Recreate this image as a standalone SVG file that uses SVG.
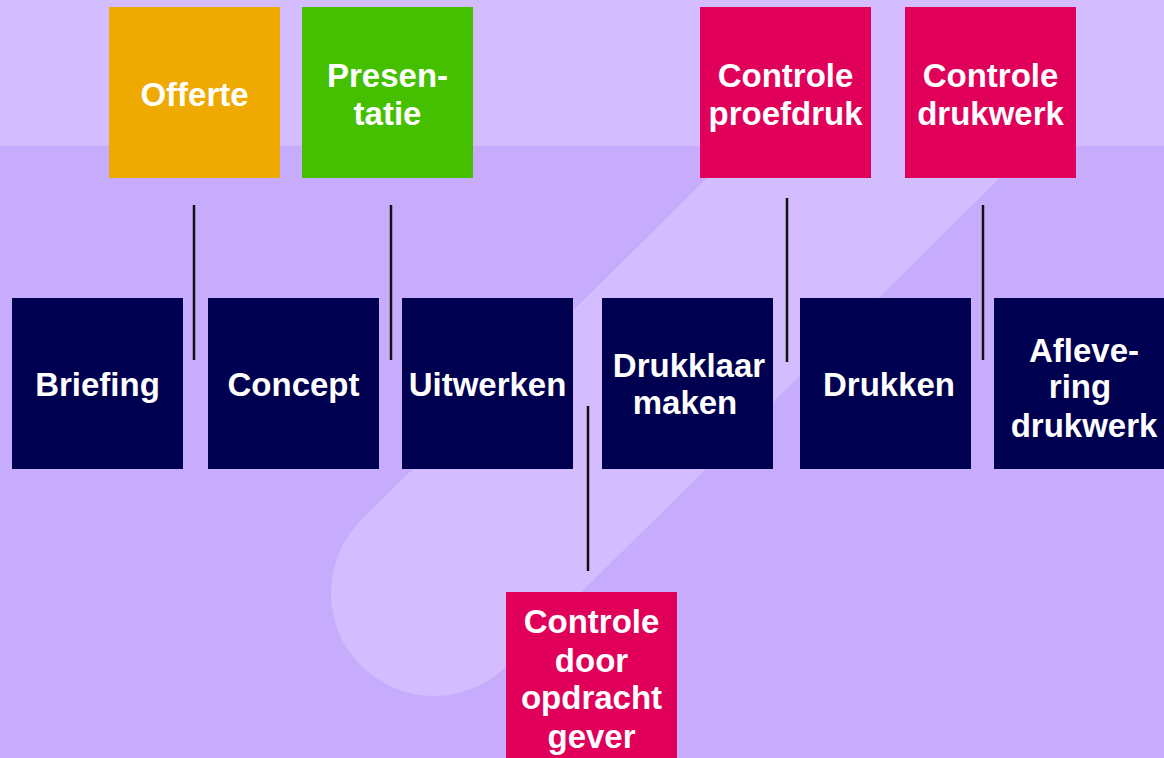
<svg xmlns="http://www.w3.org/2000/svg" width="1164" height="758" viewBox="0 0 1164 758">
<style>
.box{stroke:none}
.navy{fill:#000050}
.pink{fill:#e0005a}
.t{font-family:"Liberation Sans",Arial,sans-serif;font-weight:bold;font-size:33px;fill:#ffffff;text-anchor:middle}
.c{stroke:#111111;stroke-width:2.5;fill:none}
</style>
<rect x="0" y="0" width="1164" height="758" fill="#c7abfc"/>
<rect x="0" y="0" width="1164" height="146" fill="#d3bdfe"/>
<line x1="434" y1="593" x2="1005" y2="28" stroke="#d3bdfe" stroke-width="206" stroke-linecap="round"/>
<g id="connectors">
<line class="c" x1="194" y1="205" x2="194" y2="360"/>
<line class="c" x1="391" y1="205" x2="391" y2="360"/>
<line class="c" x1="588" y1="406" x2="588" y2="571"/>
<line class="c" x1="787" y1="198" x2="787" y2="362"/>
<line class="c" x1="983" y1="205" x2="983" y2="360"/>
</g>
<g id="offerte"><rect class="box" x="109" y="7" width="171" height="171" fill="#eeaa00"/><text class="t" x="194.5" y="106">Offerte</text></g>
<g id="presentatie"><rect class="box" x="302" y="7" width="171" height="171" fill="#44c000"/><text class="t" x="387.5" y="87">Presen-</text><text class="t" x="387.5" y="125">tatie</text></g>
<g id="controle-proefdruk"><rect class="box pink" x="700" y="7" width="171" height="171"/><text class="t" x="785.5" y="87">Controle</text><text class="t" x="785.5" y="125">proefdruk</text></g>
<g id="controle-drukwerk"><rect class="box pink" x="905" y="7" width="171" height="171"/><text class="t" x="990.5" y="87">Controle</text><text class="t" x="990.5" y="125">drukwerk</text></g>
<g id="briefing"><rect class="box navy" x="12" y="298" width="171" height="171"/><text class="t" x="97.5" y="396">Briefing</text></g>
<g id="concept"><rect class="box navy" x="208" y="298" width="171" height="171"/><text class="t" x="293.5" y="396">Concept</text></g>
<g id="uitwerken"><rect class="box navy" x="402" y="298" width="171" height="171"/><text class="t" x="487.5" y="396">Uitwerken</text></g>
<g id="drukklaar-maken"><rect class="box navy" x="602" y="298" width="171" height="171"/><text class="t" x="689" y="377">Drukklaar</text><text class="t" x="685" y="414">maken</text></g>
<g id="drukken"><rect class="box navy" x="800" y="298" width="171" height="171"/><text class="t" x="889" y="396">Drukken</text></g>
<g id="aflevering-drukwerk"><rect class="box navy" x="994" y="298" width="171" height="171"/><text class="t" x="1084" y="362">Afleve-</text><text class="t" x="1080" y="398">ring</text><text class="t" x="1084" y="437">drukwerk</text></g>
<g id="controle-opdrachtgever"><rect class="box pink" x="506" y="592" width="171" height="170"/><text class="t" x="591.5" y="633">Controle</text><text class="t" x="591.5" y="672">door</text><text class="t" x="591.5" y="709">opdracht</text><text class="t" x="591.5" y="748">gever</text></g>
</svg>
